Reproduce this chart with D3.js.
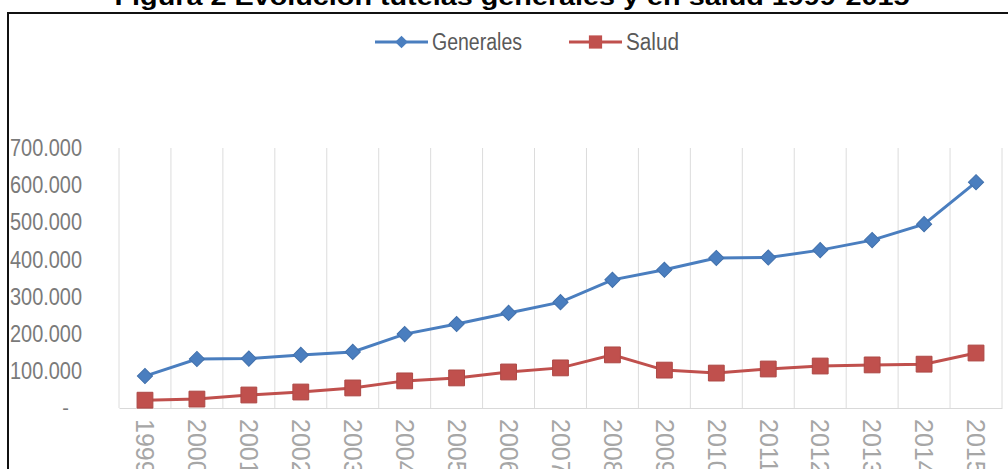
<!DOCTYPE html>
<html>
<head>
<meta charset="utf-8">
<script src="https://cdnjs.cloudflare.com/ajax/libs/d3/7.8.5/d3.min.js"></script>
<style>
	body { margin: 0; background: #fff; }
	svg { display: block; }
</style>
</head>
<body>
<div id="chart"></div>
<script>
// data
var years = ["1999", "2000", "2001", "2002", "2003", "2004", "2005", "2006", "2007", "2008", "2009", "2010", "2011", "2012", "2013", "2014", "2015"];
var generales = [86000, 132000, 133000, 143000, 151000, 199000, 226000, 256000, 285000, 345000, 372000, 404000, 405000, 425000, 452000, 495000, 608000];
var salud = [21000, 24000, 35000, 43000, 54000, 73000, 81000, 97000, 108000, 143000, 102000, 94000, 105000, 113000, 116000, 118000, 148000];
var yTicks = [0, 100000, 200000, 300000, 400000, 500000, 600000, 700000];
var titleText = "Figura 2 Evolución tutelas generales y en salud 1999-2015";

(function() {
	var width = 1008, height = 469;
	var svg = d3.select("#chart").append("svg").attr("width", width).attr("height", height);

	// title, mostly cut off at the top of the picture
	svg.append("text").attr("x", 512).attr("y", 5).attr("text-anchor", "middle")
		.attr("textLength", 795).attr("lengthAdjust", "spacingAndGlyphs")
		.style("font-family", "'Liberation Sans', Arial, sans-serif").style("font-weight", "bold")
		.style("font-size", "24px").style("fill", "#000").text(titleText);

	// frame
	svg.append("path").attr("d", "M8," + (height + 5) + "V13H" + (width + 5))
		.attr("fill", "none").attr("stroke", "#111").attr("stroke-width", 2);

	var x = d3.scaleBand().domain(years).range([119, 1002]);
	var y = d3.scaleLinear().domain([0, 700000]).range([408, 148]);

	// vertical gridlines between categories
	var bounds = years.map(function(d) { return x(d); }).concat([x.range()[1]]);
	svg.append("g").selectAll("line").data(bounds).enter().append("line")
		.attr("x1", function(d) { return d; }).attr("x2", function(d) { return d; })
		.attr("y1", y(700000)).attr("y2", y(0))
		.attr("stroke", "#dcdcdc").attr("stroke-width", 1);

	var fmt = function(v) { return v === 0 ? "-" : d3.format(",")(v).replace(/,/g, "."); };
	var yAxis = d3.axisLeft(y).tickValues(yTicks).tickSize(0).tickPadding(0).tickFormat(fmt);
	var gy = svg.append("g").attr("transform", "translate(82,0)").call(yAxis);
	gy.select(".domain").remove();
	gy.selectAll("text").style("font-family", "'Liberation Sans', Arial, sans-serif")
		.style("font-size", "24px").style("fill", "#7a7a7a")
		.each(function(d) {
			if (d === 0) d3.select(this).attr("x", -13).style("font-size", "20px");
			else d3.select(this).attr("textLength", 72).attr("lengthAdjust", "spacingAndGlyphs");
		});

	var xAxis = d3.axisBottom(x).tickSize(0).tickPadding(0);
	var gx = svg.append("g").attr("transform", "translate(0,408)").call(xAxis);
	gx.select(".domain").attr("stroke", "#d9d9d9");
	gx.selectAll("text").attr("transform", "rotate(90)").attr("x", 11).attr("y", 0).attr("dy", "0.35em")
		.style("text-anchor", "start").style("font-family", "'Liberation Sans', Arial, sans-serif")
		.style("font-size", "25px").style("fill", "#a6a6a6");

	var cx = function(d, i) { return x(years[i]) + x.bandwidth() / 2; };
	var line = d3.line().x(cx).y(function(d) { return y(d); });

	var series = [
		{ name: "Generales", values: generales, color: "#4a7ebf", marker: d3.symbolSquare, rot: 45, size: 115, lw: 90 },
		{ name: "Salud", values: salud, color: "#c0504d", marker: d3.symbolSquare, rot: 0, size: 250, lw: 53 }
	];

	series.forEach(function(s) {
		var g = svg.append("g");
		g.append("path").datum(s.values).attr("d", line).attr("fill", "none")
			.attr("stroke", s.color).attr("stroke-width", 3);
		g.selectAll("path.m").data(s.values).enter().append("path").attr("class", "m")
			.attr("d", d3.symbol().type(s.marker).size(s.size))
			.attr("transform", function(d, i) { return "translate(" + cx(d, i) + "," + y(d) + ")rotate(" + s.rot + ")"; })
			.attr("fill", s.color).attr("stroke", d3.color(s.color).darker(0.3)).attr("stroke-width", 1);
	});

	// legend
	var legend = svg.append("g");
	var legX = [375, 569], legW = [53, 53];
	series.forEach(function(s, i) {
		var lg = legend.append("g").attr("transform", "translate(" + legX[i] + ",42)");
		lg.append("line").attr("x1", 0).attr("x2", legW[i]).attr("stroke", s.color).attr("stroke-width", 3);
		lg.append("path").attr("d", d3.symbol().type(s.marker).size(s.size * 0.7))
			.attr("transform", "translate(" + (legW[i] / 2) + ",0)rotate(" + s.rot + ")").attr("fill", s.color);
		lg.append("text").attr("x", legW[i] + 4).attr("dy", "0.35em")
			.attr("textLength", s.lw).attr("lengthAdjust", "spacingAndGlyphs")
			.style("font-family", "'Liberation Sans', Arial, sans-serif")
			.style("font-size", "23px").style("fill", "#595959").text(s.name);
	});
})();
</script>
</body>
</html>
